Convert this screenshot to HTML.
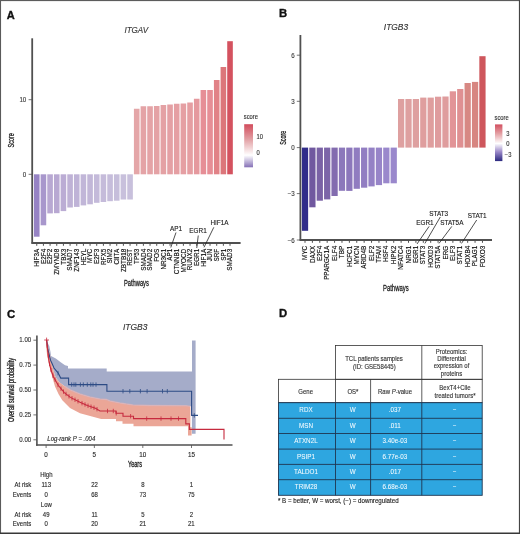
<!DOCTYPE html><html><head><meta charset="utf-8"><style>html,body{margin:0;padding:0;background:#fff;width:520px;height:534px;overflow:hidden;position:relative;}svg{display:block;position:absolute;left:0;top:0;}svg.main{filter:blur(0.30px);}</style></head><body><svg class="main" width="520" height="534" viewBox="0 0 520 534" font-family="Liberation Sans, sans-serif">
<rect x="0.00" y="0.00" width="520.00" height="534.00" fill="#ffffff" />
<text x="6.70" y="19.40" font-size="11.3" fill="#111" text-anchor="start" font-weight="bold" textLength="8.0" lengthAdjust="spacingAndGlyphs" stroke="#111" stroke-width="0.35">A</text>
<text x="124.40" y="32.90" font-size="8.3" fill="#333333" text-anchor="start" stroke="#333333" stroke-width="0.12" font-style="italic" textLength="23.7" lengthAdjust="spacingAndGlyphs" >ITGAV</text>
<rect x="33.95" y="174.30" width="5.60" height="62.40" fill="#9683c4" />
<line x1="36.75" y1="243.00" x2="36.75" y2="245.80" stroke="#505050" stroke-width="1.0" />
<g transform="translate(38.90 248.80) rotate(-90) scale(1 1.05)">
<text x="0.00" y="0.00" font-size="6.35" fill="#111111" text-anchor="end" stroke="#111111" stroke-width="0.15" >HIF3A</text>
</g>
<rect x="40.62" y="174.30" width="5.60" height="51.00" fill="#a897cc" />
<line x1="43.41" y1="243.00" x2="43.41" y2="245.80" stroke="#505050" stroke-width="1.0" />
<g transform="translate(45.56 248.80) rotate(-90) scale(1 1.05)">
<text x="0.00" y="0.00" font-size="6.35" fill="#111111" text-anchor="end" stroke="#111111" stroke-width="0.15" >E2F4</text>
</g>
<rect x="47.28" y="174.30" width="5.60" height="39.10" fill="#b8a8d2" />
<line x1="50.08" y1="243.00" x2="50.08" y2="245.80" stroke="#505050" stroke-width="1.0" />
<g transform="translate(52.23 248.80) rotate(-90) scale(1 1.05)">
<text x="0.00" y="0.00" font-size="6.35" fill="#111111" text-anchor="end" stroke="#111111" stroke-width="0.15" >E2F2</text>
</g>
<rect x="53.95" y="174.30" width="5.60" height="38.90" fill="#b8a8d2" />
<line x1="56.75" y1="243.00" x2="56.75" y2="245.80" stroke="#505050" stroke-width="1.0" />
<g transform="translate(58.90 248.80) rotate(-90) scale(1 1.05)">
<text x="0.00" y="0.00" font-size="6.35" fill="#111111" text-anchor="end" stroke="#111111" stroke-width="0.15" >ZMYND8</text>
</g>
<rect x="60.61" y="174.30" width="5.60" height="36.80" fill="#bbacd4" />
<line x1="63.41" y1="243.00" x2="63.41" y2="245.80" stroke="#505050" stroke-width="1.0" />
<g transform="translate(65.56 248.80) rotate(-90) scale(1 1.05)">
<text x="0.00" y="0.00" font-size="6.35" fill="#111111" text-anchor="end" stroke="#111111" stroke-width="0.15" >TBX3</text>
</g>
<rect x="67.28" y="174.30" width="5.60" height="33.20" fill="#bfb2d6" />
<line x1="70.08" y1="243.00" x2="70.08" y2="245.80" stroke="#505050" stroke-width="1.0" />
<g transform="translate(72.23 248.80) rotate(-90) scale(1 1.05)">
<text x="0.00" y="0.00" font-size="6.35" fill="#111111" text-anchor="end" stroke="#111111" stroke-width="0.15" >SMAD7</text>
</g>
<rect x="73.94" y="174.30" width="5.60" height="32.60" fill="#bfb3d7" />
<line x1="76.74" y1="243.00" x2="76.74" y2="245.80" stroke="#505050" stroke-width="1.0" />
<g transform="translate(78.89 248.80) rotate(-90) scale(1 1.05)">
<text x="0.00" y="0.00" font-size="6.35" fill="#111111" text-anchor="end" stroke="#111111" stroke-width="0.15" >ZNF143</text>
</g>
<rect x="80.61" y="174.30" width="5.60" height="31.10" fill="#c1b6d8" />
<line x1="83.41" y1="243.00" x2="83.41" y2="245.80" stroke="#505050" stroke-width="1.0" />
<g transform="translate(85.56 248.80) rotate(-90) scale(1 1.05)">
<text x="0.00" y="0.00" font-size="6.35" fill="#111111" text-anchor="end" stroke="#111111" stroke-width="0.15" >HEYL</text>
</g>
<rect x="87.27" y="174.30" width="5.60" height="30.00" fill="#c2b7d8" />
<line x1="90.07" y1="243.00" x2="90.07" y2="245.80" stroke="#505050" stroke-width="1.0" />
<g transform="translate(92.22 248.80) rotate(-90) scale(1 1.05)">
<text x="0.00" y="0.00" font-size="6.35" fill="#111111" text-anchor="end" stroke="#111111" stroke-width="0.15" >MYC</text>
</g>
<rect x="93.94" y="174.30" width="5.60" height="28.50" fill="#c4bada" />
<line x1="96.73" y1="243.00" x2="96.73" y2="245.80" stroke="#505050" stroke-width="1.0" />
<g transform="translate(98.89 248.80) rotate(-90) scale(1 1.05)">
<text x="0.00" y="0.00" font-size="6.35" fill="#111111" text-anchor="end" stroke="#111111" stroke-width="0.15" >E2F3</text>
</g>
<rect x="100.60" y="174.30" width="5.60" height="27.70" fill="#c5bbda" />
<line x1="103.40" y1="243.00" x2="103.40" y2="245.80" stroke="#505050" stroke-width="1.0" />
<g transform="translate(105.55 248.80) rotate(-90) scale(1 1.05)">
<text x="0.00" y="0.00" font-size="6.35" fill="#111111" text-anchor="end" stroke="#111111" stroke-width="0.15" >RFX5</text>
</g>
<rect x="107.27" y="174.30" width="5.60" height="26.90" fill="#c6bddb" />
<line x1="110.06" y1="243.00" x2="110.06" y2="245.80" stroke="#505050" stroke-width="1.0" />
<g transform="translate(112.22 248.80) rotate(-90) scale(1 1.05)">
<text x="0.00" y="0.00" font-size="6.35" fill="#111111" text-anchor="end" stroke="#111111" stroke-width="0.15" >SIM2</text>
</g>
<rect x="113.93" y="174.30" width="5.60" height="26.40" fill="#c6bedb" />
<line x1="116.73" y1="243.00" x2="116.73" y2="245.80" stroke="#505050" stroke-width="1.0" />
<g transform="translate(118.88 248.80) rotate(-90) scale(1 1.05)">
<text x="0.00" y="0.00" font-size="6.35" fill="#111111" text-anchor="end" stroke="#111111" stroke-width="0.15" >CIITA</text>
</g>
<rect x="120.59" y="174.30" width="5.60" height="25.20" fill="#c8c0dc" />
<line x1="123.39" y1="243.00" x2="123.39" y2="245.80" stroke="#505050" stroke-width="1.0" />
<g transform="translate(125.55 248.80) rotate(-90) scale(1 1.05)">
<text x="0.00" y="0.00" font-size="6.35" fill="#111111" text-anchor="end" stroke="#111111" stroke-width="0.15" >ZBTB18</text>
</g>
<rect x="127.26" y="174.30" width="5.60" height="25.20" fill="#c8c0dc" />
<line x1="130.06" y1="243.00" x2="130.06" y2="245.80" stroke="#505050" stroke-width="1.0" />
<g transform="translate(132.21 248.80) rotate(-90) scale(1 1.05)">
<text x="0.00" y="0.00" font-size="6.35" fill="#111111" text-anchor="end" stroke="#111111" stroke-width="0.15" >REST</text>
</g>
<rect x="133.92" y="108.75" width="5.60" height="65.55" fill="#e4a6a8" />
<line x1="136.72" y1="243.00" x2="136.72" y2="245.80" stroke="#505050" stroke-width="1.0" />
<g transform="translate(138.88 248.80) rotate(-90) scale(1 1.05)">
<text x="0.00" y="0.00" font-size="6.35" fill="#111111" text-anchor="end" stroke="#111111" stroke-width="0.15" >TP53</text>
</g>
<rect x="140.59" y="106.25" width="5.60" height="68.05" fill="#e4a3a6" />
<line x1="143.39" y1="243.00" x2="143.39" y2="245.80" stroke="#505050" stroke-width="1.0" />
<g transform="translate(145.54 248.80) rotate(-90) scale(1 1.05)">
<text x="0.00" y="0.00" font-size="6.35" fill="#111111" text-anchor="end" stroke="#111111" stroke-width="0.15" >SMAD4</text>
</g>
<rect x="147.25" y="106.25" width="5.60" height="68.05" fill="#e4a3a6" />
<line x1="150.06" y1="243.00" x2="150.06" y2="245.80" stroke="#505050" stroke-width="1.0" />
<g transform="translate(152.21 248.80) rotate(-90) scale(1 1.05)">
<text x="0.00" y="0.00" font-size="6.35" fill="#111111" text-anchor="end" stroke="#111111" stroke-width="0.15" >SMAD2</text>
</g>
<rect x="153.92" y="106.00" width="5.60" height="68.30" fill="#e4a2a5" />
<line x1="156.72" y1="243.00" x2="156.72" y2="245.80" stroke="#505050" stroke-width="1.0" />
<g transform="translate(158.87 248.80) rotate(-90) scale(1 1.05)">
<text x="0.00" y="0.00" font-size="6.35" fill="#111111" text-anchor="end" stroke="#111111" stroke-width="0.15" >FOS</text>
</g>
<rect x="160.58" y="105.00" width="5.60" height="69.30" fill="#e4a1a4" />
<line x1="163.38" y1="243.00" x2="163.38" y2="245.80" stroke="#505050" stroke-width="1.0" />
<g transform="translate(165.53 248.80) rotate(-90) scale(1 1.05)">
<text x="0.00" y="0.00" font-size="6.35" fill="#111111" text-anchor="end" stroke="#111111" stroke-width="0.15" >NR3C1</text>
</g>
<rect x="167.25" y="104.50" width="5.60" height="69.80" fill="#e4a0a4" />
<line x1="170.05" y1="243.00" x2="170.05" y2="245.80" stroke="#505050" stroke-width="1.0" />
<g transform="translate(172.20 248.80) rotate(-90) scale(1 1.05)">
<text x="0.00" y="0.00" font-size="6.35" fill="#111111" text-anchor="end" stroke="#111111" stroke-width="0.15" >AP1</text>
</g>
<rect x="173.91" y="103.75" width="5.60" height="70.55" fill="#e59fa3" />
<line x1="176.72" y1="243.00" x2="176.72" y2="245.80" stroke="#505050" stroke-width="1.0" />
<g transform="translate(178.87 248.80) rotate(-90) scale(1 1.05)">
<text x="0.00" y="0.00" font-size="6.35" fill="#111111" text-anchor="end" stroke="#111111" stroke-width="0.15" >CTNNB1</text>
</g>
<rect x="180.58" y="103.50" width="5.60" height="70.80" fill="#e59fa3" />
<line x1="183.38" y1="243.00" x2="183.38" y2="245.80" stroke="#505050" stroke-width="1.0" />
<g transform="translate(185.53 248.80) rotate(-90) scale(1 1.05)">
<text x="0.00" y="0.00" font-size="6.35" fill="#111111" text-anchor="end" stroke="#111111" stroke-width="0.15" >MYOCD</text>
</g>
<rect x="187.24" y="102.50" width="5.60" height="71.80" fill="#e59ea2" />
<line x1="190.04" y1="243.00" x2="190.04" y2="245.80" stroke="#505050" stroke-width="1.0" />
<g transform="translate(192.19 248.80) rotate(-90) scale(1 1.05)">
<text x="0.00" y="0.00" font-size="6.35" fill="#111111" text-anchor="end" stroke="#111111" stroke-width="0.15" >RUNX2</text>
</g>
<rect x="193.91" y="98.75" width="5.60" height="75.55" fill="#e5999e" />
<line x1="196.71" y1="243.00" x2="196.71" y2="245.80" stroke="#505050" stroke-width="1.0" />
<g transform="translate(198.86 248.80) rotate(-90) scale(1 1.05)">
<text x="0.00" y="0.00" font-size="6.35" fill="#111111" text-anchor="end" stroke="#111111" stroke-width="0.15" >EGR1</text>
</g>
<rect x="200.57" y="90.00" width="5.60" height="84.30" fill="#e68e96" />
<line x1="203.38" y1="243.00" x2="203.38" y2="245.80" stroke="#505050" stroke-width="1.0" />
<g transform="translate(205.53 248.80) rotate(-90) scale(1 1.05)">
<text x="0.00" y="0.00" font-size="6.35" fill="#111111" text-anchor="end" stroke="#111111" stroke-width="0.15" >HIF1A</text>
</g>
<rect x="207.24" y="90.00" width="5.60" height="84.30" fill="#e68e96" />
<line x1="210.04" y1="243.00" x2="210.04" y2="245.80" stroke="#505050" stroke-width="1.0" />
<g transform="translate(212.19 248.80) rotate(-90) scale(1 1.05)">
<text x="0.00" y="0.00" font-size="6.35" fill="#111111" text-anchor="end" stroke="#111111" stroke-width="0.15" >JUN</text>
</g>
<rect x="213.91" y="80.00" width="5.60" height="94.30" fill="#e18287" />
<line x1="216.71" y1="243.00" x2="216.71" y2="245.80" stroke="#505050" stroke-width="1.0" />
<g transform="translate(218.86 248.80) rotate(-90) scale(1 1.05)">
<text x="0.00" y="0.00" font-size="6.35" fill="#111111" text-anchor="end" stroke="#111111" stroke-width="0.15" >SRF</text>
</g>
<rect x="220.57" y="67.00" width="5.60" height="107.30" fill="#dc767a" />
<line x1="223.37" y1="243.00" x2="223.37" y2="245.80" stroke="#505050" stroke-width="1.0" />
<g transform="translate(225.52 248.80) rotate(-90) scale(1 1.05)">
<text x="0.00" y="0.00" font-size="6.35" fill="#111111" text-anchor="end" stroke="#111111" stroke-width="0.15" >SP1</text>
</g>
<rect x="227.23" y="41.20" width="5.60" height="133.10" fill="#d4525f" />
<line x1="230.03" y1="243.00" x2="230.03" y2="245.80" stroke="#505050" stroke-width="1.0" />
<g transform="translate(232.19 248.80) rotate(-90) scale(1 1.05)">
<text x="0.00" y="0.00" font-size="6.35" fill="#111111" text-anchor="end" stroke="#111111" stroke-width="0.15" >SMAD3</text>
</g>
<line x1="32.20" y1="38.30" x2="32.20" y2="243.70" stroke="#505050" stroke-width="1.8" />
<line x1="31.50" y1="243.00" x2="240.60" y2="243.00" stroke="#505050" stroke-width="1.8" />
<line x1="28.60" y1="99.70" x2="32.20" y2="99.70" stroke="#505050" stroke-width="0.8" />
<g transform="translate(26.30 102.20) scale(1 1.1)">
<text x="0.00" y="0.00" font-size="6.2" fill="#3a3a3a" text-anchor="end" stroke="#3a3a3a" stroke-width="0.12" >10</text>
</g>
<line x1="28.60" y1="174.30" x2="32.20" y2="174.30" stroke="#505050" stroke-width="0.8" />
<g transform="translate(26.30 176.80) scale(1 1.1)">
<text x="0.00" y="0.00" font-size="6.2" fill="#3a3a3a" text-anchor="end" stroke="#3a3a3a" stroke-width="0.12" >0</text>
</g>
<text x="14.30" y="140.30" font-size="8.4" fill="#1a1a1a" text-anchor="middle" stroke="#1a1a1a" stroke-width="0.3" textLength="14.4" lengthAdjust="spacingAndGlyphs" transform="rotate(-90 14.30 140.30)" >Score</text>
<text x="136.40" y="285.90" font-size="9.4" fill="#1a1a1a" text-anchor="middle" stroke="#1a1a1a" stroke-width="0.3" textLength="25.0" lengthAdjust="spacingAndGlyphs" >Pathways</text>
<g transform="translate(176.00 230.50) scale(1 1.1)">
<text x="0.00" y="0.00" font-size="6.4" fill="#222" text-anchor="middle" stroke="#222" stroke-width="0.12" >AP1</text>
</g>
<line x1="176.00" y1="232.50" x2="170.75" y2="247.50" stroke="#222" stroke-width="0.8" />
<g transform="translate(198.00 233.20) scale(1 1.1)">
<text x="0.00" y="0.00" font-size="6.4" fill="#222" text-anchor="middle" stroke="#222" stroke-width="0.12" >EGR1</text>
</g>
<line x1="198.25" y1="235.50" x2="196.75" y2="248.00" stroke="#222" stroke-width="0.8" />
<g transform="translate(219.50 224.70) scale(1 1.1)">
<text x="0.00" y="0.00" font-size="6.4" fill="#222" text-anchor="middle" stroke="#222" stroke-width="0.12" >HIF1A</text>
</g>
<line x1="213.80" y1="227.30" x2="204.00" y2="247.30" stroke="#222" stroke-width="0.8" />
<defs><linearGradient id="gA" x1="0" y1="0" x2="0" y2="1"><stop offset="0" stop-color="#d24c5c"/><stop offset="0.35" stop-color="#e2a0a4"/><stop offset="0.72" stop-color="#ffffff"/><stop offset="1" stop-color="#8570b6"/></linearGradient><linearGradient id="gB" x1="0" y1="0" x2="0" y2="1"><stop offset="0" stop-color="#d25060"/><stop offset="0.25" stop-color="#e4a0a4"/><stop offset="0.52" stop-color="#ffffff"/><stop offset="0.75" stop-color="#9a88c8"/><stop offset="1" stop-color="#2c2a80"/></linearGradient></defs>
<g transform="translate(243.80 119.30) scale(1 1.1)">
<text x="0.00" y="0.00" font-size="5.8" fill="#333" text-anchor="start" stroke="#333" stroke-width="0.12" >score</text>
</g>
<rect x="244.20" y="124.20" width="8.80" height="43.10" fill="url(#gA)" />
<g transform="translate(256.50 139.00) scale(1 1.1)">
<text x="0.00" y="0.00" font-size="5.8" fill="#333" text-anchor="start" stroke="#333" stroke-width="0.12" >10</text>
</g>
<g transform="translate(256.50 154.70) scale(1 1.1)">
<text x="0.00" y="0.00" font-size="5.8" fill="#333" text-anchor="start" stroke="#333" stroke-width="0.12" >0</text>
</g>
<text x="279.00" y="16.70" font-size="11.3" fill="#111" text-anchor="start" font-weight="bold" stroke="#111" stroke-width="0.35">B</text>
<text x="383.80" y="30.00" font-size="8.3" fill="#333333" text-anchor="start" stroke="#333333" stroke-width="0.12" font-style="italic" textLength="24.3" lengthAdjust="spacingAndGlyphs" >ITGB3</text>
<rect x="301.88" y="147.60" width="6.25" height="83.20" fill="#312d8a" />
<line x1="305.00" y1="240.00" x2="305.00" y2="242.80" stroke="#505050" stroke-width="1.0" />
<g transform="translate(307.15 245.80) rotate(-90) scale(1 1.05)">
<text x="0.00" y="0.00" font-size="6.35" fill="#111111" text-anchor="end" stroke="#111111" stroke-width="0.15" >MYC</text>
</g>
<rect x="309.27" y="147.60" width="6.25" height="59.70" fill="#70589f" />
<line x1="312.39" y1="240.00" x2="312.39" y2="242.80" stroke="#505050" stroke-width="1.0" />
<g transform="translate(314.54 245.80) rotate(-90) scale(1 1.05)">
<text x="0.00" y="0.00" font-size="6.35" fill="#111111" text-anchor="end" stroke="#111111" stroke-width="0.15" >DAXX</text>
</g>
<rect x="316.66" y="147.60" width="6.25" height="53.10" fill="#7a62a5" />
<line x1="319.79" y1="240.00" x2="319.79" y2="242.80" stroke="#505050" stroke-width="1.0" />
<g transform="translate(321.94 245.80) rotate(-90) scale(1 1.05)">
<text x="0.00" y="0.00" font-size="6.35" fill="#111111" text-anchor="end" stroke="#111111" stroke-width="0.15" >E2F4</text>
</g>
<rect x="324.06" y="147.60" width="6.25" height="51.80" fill="#7c65a8" />
<line x1="327.18" y1="240.00" x2="327.18" y2="242.80" stroke="#505050" stroke-width="1.0" />
<g transform="translate(329.33 245.80) rotate(-90) scale(1 1.05)">
<text x="0.00" y="0.00" font-size="6.35" fill="#111111" text-anchor="end" stroke="#111111" stroke-width="0.15" >PPARGC1A</text>
</g>
<rect x="331.45" y="147.60" width="6.25" height="48.40" fill="#836caf" />
<line x1="334.58" y1="240.00" x2="334.58" y2="242.80" stroke="#505050" stroke-width="1.0" />
<g transform="translate(336.73 245.80) rotate(-90) scale(1 1.05)">
<text x="0.00" y="0.00" font-size="6.35" fill="#111111" text-anchor="end" stroke="#111111" stroke-width="0.15" >ELF4</text>
</g>
<rect x="338.85" y="147.60" width="6.25" height="43.20" fill="#8c78bb" />
<line x1="341.97" y1="240.00" x2="341.97" y2="242.80" stroke="#505050" stroke-width="1.0" />
<g transform="translate(344.12 245.80) rotate(-90) scale(1 1.05)">
<text x="0.00" y="0.00" font-size="6.35" fill="#111111" text-anchor="end" stroke="#111111" stroke-width="0.15" >TBP</text>
</g>
<rect x="346.24" y="147.60" width="6.25" height="43.30" fill="#8c77bb" />
<line x1="349.36" y1="240.00" x2="349.36" y2="242.80" stroke="#505050" stroke-width="1.0" />
<g transform="translate(351.51 245.80) rotate(-90) scale(1 1.05)">
<text x="0.00" y="0.00" font-size="6.35" fill="#111111" text-anchor="end" stroke="#111111" stroke-width="0.15" >HCFC1</text>
</g>
<rect x="353.63" y="147.60" width="6.25" height="41.20" fill="#907cc0" />
<line x1="356.76" y1="240.00" x2="356.76" y2="242.80" stroke="#505050" stroke-width="1.0" />
<g transform="translate(358.91 245.80) rotate(-90) scale(1 1.05)">
<text x="0.00" y="0.00" font-size="6.35" fill="#111111" text-anchor="end" stroke="#111111" stroke-width="0.15" >MYCN</text>
</g>
<rect x="361.03" y="147.60" width="6.25" height="40.10" fill="#927ec2" />
<line x1="364.15" y1="240.00" x2="364.15" y2="242.80" stroke="#505050" stroke-width="1.0" />
<g transform="translate(366.30 245.80) rotate(-90) scale(1 1.05)">
<text x="0.00" y="0.00" font-size="6.35" fill="#111111" text-anchor="end" stroke="#111111" stroke-width="0.15" >ARID4B</text>
</g>
<rect x="368.42" y="147.60" width="6.25" height="38.80" fill="#9481c5" />
<line x1="371.55" y1="240.00" x2="371.55" y2="242.80" stroke="#505050" stroke-width="1.0" />
<g transform="translate(373.70 245.80) rotate(-90) scale(1 1.05)">
<text x="0.00" y="0.00" font-size="6.35" fill="#111111" text-anchor="end" stroke="#111111" stroke-width="0.15" >ELF2</text>
</g>
<rect x="375.81" y="147.60" width="6.25" height="37.50" fill="#9784c8" />
<line x1="378.94" y1="240.00" x2="378.94" y2="242.80" stroke="#505050" stroke-width="1.0" />
<g transform="translate(381.09 245.80) rotate(-90) scale(1 1.05)">
<text x="0.00" y="0.00" font-size="6.35" fill="#111111" text-anchor="end" stroke="#111111" stroke-width="0.15" >TFAM</text>
</g>
<rect x="383.21" y="147.60" width="6.25" height="35.70" fill="#9a88cc" />
<line x1="386.33" y1="240.00" x2="386.33" y2="242.80" stroke="#505050" stroke-width="1.0" />
<g transform="translate(388.48 245.80) rotate(-90) scale(1 1.05)">
<text x="0.00" y="0.00" font-size="6.35" fill="#111111" text-anchor="end" stroke="#111111" stroke-width="0.15" >HSF4</text>
</g>
<rect x="390.60" y="147.60" width="6.25" height="35.70" fill="#9a88cc" />
<line x1="393.73" y1="240.00" x2="393.73" y2="242.80" stroke="#505050" stroke-width="1.0" />
<g transform="translate(395.88 245.80) rotate(-90) scale(1 1.05)">
<text x="0.00" y="0.00" font-size="6.35" fill="#111111" text-anchor="end" stroke="#111111" stroke-width="0.15" >HIPK2</text>
</g>
<rect x="398.00" y="99.00" width="6.25" height="48.60" fill="#dea0a0" />
<line x1="401.12" y1="240.00" x2="401.12" y2="242.80" stroke="#505050" stroke-width="1.0" />
<g transform="translate(403.27 245.80) rotate(-90) scale(1 1.05)">
<text x="0.00" y="0.00" font-size="6.35" fill="#111111" text-anchor="end" stroke="#111111" stroke-width="0.15" >NFATC4</text>
</g>
<rect x="405.39" y="99.00" width="6.25" height="48.60" fill="#dea0a0" />
<line x1="408.52" y1="240.00" x2="408.52" y2="242.80" stroke="#505050" stroke-width="1.0" />
<g transform="translate(410.67 245.80) rotate(-90) scale(1 1.05)">
<text x="0.00" y="0.00" font-size="6.35" fill="#111111" text-anchor="end" stroke="#111111" stroke-width="0.15" >NRG1</text>
</g>
<rect x="412.78" y="99.00" width="6.25" height="48.60" fill="#dea0a0" />
<line x1="415.91" y1="240.00" x2="415.91" y2="242.80" stroke="#505050" stroke-width="1.0" />
<g transform="translate(418.06 245.80) rotate(-90) scale(1 1.05)">
<text x="0.00" y="0.00" font-size="6.35" fill="#111111" text-anchor="end" stroke="#111111" stroke-width="0.15" >EGR1</text>
</g>
<rect x="420.18" y="97.60" width="6.25" height="50.00" fill="#df9e9e" />
<line x1="423.30" y1="240.00" x2="423.30" y2="242.80" stroke="#505050" stroke-width="1.0" />
<g transform="translate(425.45 245.80) rotate(-90) scale(1 1.05)">
<text x="0.00" y="0.00" font-size="6.35" fill="#111111" text-anchor="end" stroke="#111111" stroke-width="0.15" >STAT3</text>
</g>
<rect x="427.57" y="97.60" width="6.25" height="50.00" fill="#df9e9e" />
<line x1="430.70" y1="240.00" x2="430.70" y2="242.80" stroke="#505050" stroke-width="1.0" />
<g transform="translate(432.85 245.80) rotate(-90) scale(1 1.05)">
<text x="0.00" y="0.00" font-size="6.35" fill="#111111" text-anchor="end" stroke="#111111" stroke-width="0.15" >HOXD3</text>
</g>
<rect x="434.97" y="96.70" width="6.25" height="50.90" fill="#df9c9e" />
<line x1="438.09" y1="240.00" x2="438.09" y2="242.80" stroke="#505050" stroke-width="1.0" />
<g transform="translate(440.24 245.80) rotate(-90) scale(1 1.05)">
<text x="0.00" y="0.00" font-size="6.35" fill="#111111" text-anchor="end" stroke="#111111" stroke-width="0.15" >STAT5A</text>
</g>
<rect x="442.36" y="96.50" width="6.25" height="51.10" fill="#df9c9d" />
<line x1="445.49" y1="240.00" x2="445.49" y2="242.80" stroke="#505050" stroke-width="1.0" />
<g transform="translate(447.64 245.80) rotate(-90) scale(1 1.05)">
<text x="0.00" y="0.00" font-size="6.35" fill="#111111" text-anchor="end" stroke="#111111" stroke-width="0.15" >ERG</text>
</g>
<rect x="449.75" y="91.30" width="6.25" height="56.30" fill="#e29497" />
<line x1="452.88" y1="240.00" x2="452.88" y2="242.80" stroke="#505050" stroke-width="1.0" />
<g transform="translate(455.03 245.80) rotate(-90) scale(1 1.05)">
<text x="0.00" y="0.00" font-size="6.35" fill="#111111" text-anchor="end" stroke="#111111" stroke-width="0.15" >ELF3</text>
</g>
<rect x="457.15" y="89.00" width="6.25" height="58.60" fill="#df9092" />
<line x1="460.27" y1="240.00" x2="460.27" y2="242.80" stroke="#505050" stroke-width="1.0" />
<g transform="translate(462.42 245.80) rotate(-90) scale(1 1.05)">
<text x="0.00" y="0.00" font-size="6.35" fill="#111111" text-anchor="end" stroke="#111111" stroke-width="0.15" >STAT1</text>
</g>
<rect x="464.54" y="83.00" width="6.25" height="64.60" fill="#d78883" />
<line x1="467.67" y1="240.00" x2="467.67" y2="242.80" stroke="#505050" stroke-width="1.0" />
<g transform="translate(469.82 245.80) rotate(-90) scale(1 1.05)">
<text x="0.00" y="0.00" font-size="6.35" fill="#111111" text-anchor="end" stroke="#111111" stroke-width="0.15" >HOXB4</text>
</g>
<rect x="471.94" y="81.90" width="6.25" height="65.70" fill="#d78681" />
<line x1="475.06" y1="240.00" x2="475.06" y2="242.80" stroke="#505050" stroke-width="1.0" />
<g transform="translate(477.21 245.80) rotate(-90) scale(1 1.05)">
<text x="0.00" y="0.00" font-size="6.35" fill="#111111" text-anchor="end" stroke="#111111" stroke-width="0.15" >PLAG1</text>
</g>
<rect x="479.33" y="56.20" width="6.25" height="91.40" fill="#ce565c" />
<line x1="482.46" y1="240.00" x2="482.46" y2="242.80" stroke="#505050" stroke-width="1.0" />
<g transform="translate(484.61 245.80) rotate(-90) scale(1 1.05)">
<text x="0.00" y="0.00" font-size="6.35" fill="#111111" text-anchor="end" stroke="#111111" stroke-width="0.15" >FOXO3</text>
</g>
<line x1="300.40" y1="35.00" x2="300.40" y2="240.70" stroke="#505050" stroke-width="1.8" />
<line x1="299.70" y1="240.00" x2="492.00" y2="240.00" stroke="#505050" stroke-width="1.8" />
<line x1="296.80" y1="55.20" x2="300.40" y2="55.20" stroke="#505050" stroke-width="0.8" />
<g transform="translate(294.70 57.70) scale(1 1.1)">
<text x="0.00" y="0.00" font-size="6.2" fill="#3a3a3a" text-anchor="end" stroke="#3a3a3a" stroke-width="0.12" >6</text>
</g>
<line x1="296.80" y1="101.30" x2="300.40" y2="101.30" stroke="#505050" stroke-width="0.8" />
<g transform="translate(294.70 103.80) scale(1 1.1)">
<text x="0.00" y="0.00" font-size="6.2" fill="#3a3a3a" text-anchor="end" stroke="#3a3a3a" stroke-width="0.12" >3</text>
</g>
<line x1="296.80" y1="147.60" x2="300.40" y2="147.60" stroke="#505050" stroke-width="0.8" />
<g transform="translate(294.70 150.10) scale(1 1.1)">
<text x="0.00" y="0.00" font-size="6.2" fill="#3a3a3a" text-anchor="end" stroke="#3a3a3a" stroke-width="0.12" >0</text>
</g>
<line x1="296.80" y1="193.60" x2="300.40" y2="193.60" stroke="#505050" stroke-width="0.8" />
<g transform="translate(294.70 196.10) scale(1 1.1)">
<text x="0.00" y="0.00" font-size="6.2" fill="#3a3a3a" text-anchor="end" stroke="#3a3a3a" stroke-width="0.12" >−3</text>
</g>
<line x1="296.80" y1="240.00" x2="300.40" y2="240.00" stroke="#505050" stroke-width="0.8" />
<g transform="translate(294.70 242.50) scale(1 1.1)">
<text x="0.00" y="0.00" font-size="6.2" fill="#3a3a3a" text-anchor="end" stroke="#3a3a3a" stroke-width="0.12" >−6</text>
</g>
<text x="285.70" y="137.80" font-size="8.4" fill="#1a1a1a" text-anchor="middle" stroke="#1a1a1a" stroke-width="0.3" textLength="14.0" lengthAdjust="spacingAndGlyphs" transform="rotate(-90 285.70 137.80)" >Score</text>
<text x="395.80" y="290.50" font-size="9.4" fill="#1a1a1a" text-anchor="middle" stroke="#1a1a1a" stroke-width="0.3" textLength="25.6" lengthAdjust="spacingAndGlyphs" >Pathways</text>
<g transform="translate(438.70 215.60) scale(1 1.1)">
<text x="0.00" y="0.00" font-size="6.4" fill="#222" text-anchor="middle" stroke="#222" stroke-width="0.12" >STAT3</text>
</g>
<line x1="440.30" y1="217.00" x2="424.90" y2="243.40" stroke="#222" stroke-width="0.8" />
<g transform="translate(424.90 224.70) scale(1 1.1)">
<text x="0.00" y="0.00" font-size="6.4" fill="#222" text-anchor="middle" stroke="#222" stroke-width="0.12" >EGR1</text>
</g>
<line x1="429.10" y1="226.40" x2="417.00" y2="244.00" stroke="#222" stroke-width="0.8" />
<g transform="translate(451.80 224.70) scale(1 1.1)">
<text x="0.00" y="0.00" font-size="6.4" fill="#222" text-anchor="middle" stroke="#222" stroke-width="0.12" >STAT5A</text>
</g>
<line x1="451.80" y1="226.40" x2="439.00" y2="243.40" stroke="#222" stroke-width="0.8" />
<g transform="translate(477.20 217.90) scale(1 1.1)">
<text x="0.00" y="0.00" font-size="6.4" fill="#222" text-anchor="middle" stroke="#222" stroke-width="0.12" >STAT1</text>
</g>
<line x1="476.70" y1="220.00" x2="461.50" y2="243.40" stroke="#222" stroke-width="0.8" />
<g transform="translate(494.50 120.00) scale(1 1.1)">
<text x="0.00" y="0.00" font-size="5.8" fill="#333" text-anchor="start" stroke="#333" stroke-width="0.12" >score</text>
</g>
<rect x="495.00" y="124.40" width="7.40" height="36.70" fill="url(#gB)" />
<g transform="translate(506.30 136.00) scale(1 1.1)">
<text x="0.00" y="0.00" font-size="5.8" fill="#333" text-anchor="start" stroke="#333" stroke-width="0.12" >3</text>
</g>
<g transform="translate(506.30 146.10) scale(1 1.1)">
<text x="0.00" y="0.00" font-size="5.8" fill="#333" text-anchor="start" stroke="#333" stroke-width="0.12" >0</text>
</g>
<g transform="translate(504.80 156.70) scale(1 1.1)">
<text x="0.00" y="0.00" font-size="5.8" fill="#333" text-anchor="start" stroke="#333" stroke-width="0.12" >−3</text>
</g>
<text x="6.90" y="317.50" font-size="11.4" fill="#111" text-anchor="start" font-weight="bold" stroke="#111" stroke-width="0.35">C</text>
<text x="122.90" y="330.20" font-size="8.3" fill="#333333" text-anchor="start" stroke="#333333" stroke-width="0.12" font-style="italic" textLength="24.6" lengthAdjust="spacingAndGlyphs" >ITGB3</text>
<path d="M46.6,341.0 L49.3,346.0 L50.5,352.0 L51.0,356.0 L55.8,358.5 L60.7,362.2 L65.0,365.2 L68.0,366.0 L68.0,368.4 L106.7,368.4 L106.7,371.5 L192.0,371.5 L192.0,340.5 L195.6,340.5 L195.6,433.7 L191.9,433.7 L191.9,406.3 L190.3,406.3 L186.0,405.8 L150.0,405.5 L133.0,405.0 L120.0,403.0 L110.0,401.0 L106.5,399.5 L100.0,399.0 L90.0,397.0 L80.0,394.0 L70.4,390.0 L65.0,386.5 L59.0,382.0 L55.5,377.0 L53.3,370.0 L51.2,360.0 L49.0,350.0 L46.6,342.0 Z" fill="#a5acc9"/>
<path d="M46.6,342.0 L49.0,350.0 L51.2,360.0 L53.3,370.0 L55.5,377.0 L59.0,382.0 L65.0,386.5 L70.4,390.0 L80.0,394.0 L90.0,397.0 L100.0,399.0 L106.5,399.5 L110.0,401.0 L120.0,403.0 L133.0,405.0 L150.0,405.5 L186.0,405.8 L190.3,406.3 L190.4,408.0 L190.4,427.0 L191.6,427.0 L191.6,435.5 L188.0,435.5 L188.0,426.3 L133.5,426.3 L133.5,423.7 L122.5,423.7 L122.5,421.3 L116.0,421.3 L116.0,419.0 L101.2,419.0 L92.0,416.5 L80.0,413.2 L70.0,407.9 L62.3,400.2 L58.5,394.0 L55.0,386.5 L52.0,376.0 L49.5,366.0 L47.2,356.0 L46.1,346.0 L46.1,342.0 Z" fill="#eba697"/>
<path d="M65.0,386.5 L70.4,390.0 L80.0,394.0 L90.0,397.0 L100.0,399.0 L106.5,399.5 L110.0,401.0 L120.0,403.0 L133.0,405.0 L150.0,405.5 L186.0,405.8 L190.3,406.3" fill="none" stroke="#d8b0b8" stroke-width="1.6" stroke-opacity="0.7"/>
<path d="M46.6,340.0 L48.0,350.0 L50.5,360.0 L54.0,368.0 L58.2,373.1 L60.7,378.1 L68.6,378.1 L68.6,384.6 L106.9,384.6 L106.9,391.2 L191.6,391.2 L191.6,415.4 L198.0,415.4" fill="none" stroke="#2d4b85" stroke-width="1.1"/>
<line x1="71.70" y1="382.40" x2="71.70" y2="386.80" stroke="#2d4b85" stroke-width="0.8" />
<line x1="74.00" y1="382.40" x2="74.00" y2="386.80" stroke="#2d4b85" stroke-width="0.8" />
<line x1="75.80" y1="382.40" x2="75.80" y2="386.80" stroke="#2d4b85" stroke-width="0.8" />
<line x1="80.40" y1="382.40" x2="80.40" y2="386.80" stroke="#2d4b85" stroke-width="0.8" />
<line x1="83.30" y1="382.40" x2="83.30" y2="386.80" stroke="#2d4b85" stroke-width="0.8" />
<line x1="87.30" y1="382.40" x2="87.30" y2="386.80" stroke="#2d4b85" stroke-width="0.8" />
<line x1="90.80" y1="382.40" x2="90.80" y2="386.80" stroke="#2d4b85" stroke-width="0.8" />
<line x1="93.00" y1="382.40" x2="93.00" y2="386.80" stroke="#2d4b85" stroke-width="0.8" />
<line x1="96.00" y1="382.40" x2="96.00" y2="386.80" stroke="#2d4b85" stroke-width="0.8" />
<line x1="123.00" y1="389.00" x2="123.00" y2="393.40" stroke="#2d4b85" stroke-width="0.8" />
<line x1="129.80" y1="389.00" x2="129.80" y2="393.40" stroke="#2d4b85" stroke-width="0.8" />
<line x1="140.40" y1="389.00" x2="140.40" y2="393.40" stroke="#2d4b85" stroke-width="0.8" />
<line x1="147.10" y1="389.00" x2="147.10" y2="393.40" stroke="#2d4b85" stroke-width="0.8" />
<line x1="162.50" y1="389.00" x2="162.50" y2="393.40" stroke="#2d4b85" stroke-width="0.8" />
<line x1="167.30" y1="389.00" x2="167.30" y2="393.40" stroke="#2d4b85" stroke-width="0.8" />
<line x1="58.00" y1="370.90" x2="58.00" y2="375.30" stroke="#2d4b85" stroke-width="0.8" />
<line x1="194.30" y1="413.20" x2="194.30" y2="417.60" stroke="#2d4b85" stroke-width="0.8" />
<path d="M46.7,340.0 L47.6,350.0 L49.1,362.2 L51.0,370.0 L53.4,376.8 L58.2,385.3 L64.3,392.6 L70.4,397.4 L80.0,402.3 L87.3,405.5 L95.4,408.2 L100.0,411.0 L116.0,411.0 L116.0,413.3 L123.0,413.3 L123.0,416.2 L133.5,416.2 L133.5,418.6 L185.8,418.6 L185.8,423.9 L189.4,423.9 L189.4,429.4 L224.0,429.4 L224.0,439.5" fill="none" stroke="#c62a3e" stroke-width="1.1"/>
<line x1="47.20" y1="343.36" x2="47.20" y2="347.76" stroke="#c62a3e" stroke-width="0.8" />
<line x1="48.30" y1="353.49" x2="48.30" y2="357.89" stroke="#c62a3e" stroke-width="0.8" />
<line x1="49.50" y1="361.64" x2="49.50" y2="366.04" stroke="#c62a3e" stroke-width="0.8" />
<line x1="51.00" y1="367.80" x2="51.00" y2="372.20" stroke="#c62a3e" stroke-width="0.8" />
<line x1="53.00" y1="373.47" x2="53.00" y2="377.87" stroke="#c62a3e" stroke-width="0.8" />
<line x1="55.00" y1="377.43" x2="55.00" y2="381.83" stroke="#c62a3e" stroke-width="0.8" />
<line x1="58.00" y1="382.75" x2="58.00" y2="387.15" stroke="#c62a3e" stroke-width="0.8" />
<line x1="61.00" y1="386.45" x2="61.00" y2="390.85" stroke="#c62a3e" stroke-width="0.8" />
<line x1="63.50" y1="389.44" x2="63.50" y2="393.84" stroke="#c62a3e" stroke-width="0.8" />
<line x1="66.00" y1="391.74" x2="66.00" y2="396.14" stroke="#c62a3e" stroke-width="0.8" />
<line x1="69.00" y1="394.10" x2="69.00" y2="398.50" stroke="#c62a3e" stroke-width="0.8" />
<line x1="72.00" y1="396.02" x2="72.00" y2="400.42" stroke="#c62a3e" stroke-width="0.8" />
<line x1="75.00" y1="397.55" x2="75.00" y2="401.95" stroke="#c62a3e" stroke-width="0.8" />
<line x1="78.00" y1="399.08" x2="78.00" y2="403.48" stroke="#c62a3e" stroke-width="0.8" />
<line x1="82.00" y1="400.98" x2="82.00" y2="405.38" stroke="#c62a3e" stroke-width="0.8" />
<line x1="85.00" y1="402.29" x2="85.00" y2="406.69" stroke="#c62a3e" stroke-width="0.8" />
<line x1="88.00" y1="403.53" x2="88.00" y2="407.93" stroke="#c62a3e" stroke-width="0.8" />
<line x1="91.00" y1="404.53" x2="91.00" y2="408.93" stroke="#c62a3e" stroke-width="0.8" />
<line x1="94.00" y1="405.53" x2="94.00" y2="409.93" stroke="#c62a3e" stroke-width="0.8" />
<line x1="97.00" y1="406.97" x2="97.00" y2="411.37" stroke="#c62a3e" stroke-width="0.8" />
<line x1="107.50" y1="408.80" x2="107.50" y2="413.20" stroke="#c62a3e" stroke-width="0.8" />
<line x1="113.30" y1="408.80" x2="113.30" y2="413.20" stroke="#c62a3e" stroke-width="0.8" />
<line x1="116.20" y1="411.10" x2="116.20" y2="415.50" stroke="#c62a3e" stroke-width="0.8" />
<line x1="130.60" y1="414.00" x2="130.60" y2="418.40" stroke="#c62a3e" stroke-width="0.8" />
<line x1="146.70" y1="416.40" x2="146.70" y2="420.80" stroke="#c62a3e" stroke-width="0.8" />
<line x1="161.00" y1="416.40" x2="161.00" y2="420.80" stroke="#c62a3e" stroke-width="0.8" />
<line x1="171.00" y1="416.40" x2="171.00" y2="420.80" stroke="#c62a3e" stroke-width="0.8" />
<line x1="178.50" y1="416.40" x2="178.50" y2="420.80" stroke="#c62a3e" stroke-width="0.8" />
<line x1="44.20" y1="340.00" x2="49.00" y2="340.00" stroke="#c62a3e" stroke-width="0.8" />
<line x1="46.60" y1="337.60" x2="46.60" y2="342.40" stroke="#c62a3e" stroke-width="0.8" />
<line x1="36.90" y1="335.50" x2="36.90" y2="445.80" stroke="#505050" stroke-width="1.6" />
<line x1="36.10" y1="445.00" x2="232.50" y2="445.00" stroke="#505050" stroke-width="1.6" />
<line x1="33.40" y1="340.20" x2="36.90" y2="340.20" stroke="#505050" stroke-width="0.8" />
<g transform="translate(31.20 342.40) scale(1 1.1)">
<text x="0.00" y="0.00" font-size="6.1" fill="#333" text-anchor="end" stroke="#333" stroke-width="0.12" >1.00</text>
</g>
<line x1="33.40" y1="365.10" x2="36.90" y2="365.10" stroke="#505050" stroke-width="0.8" />
<g transform="translate(31.20 367.30) scale(1 1.1)">
<text x="0.00" y="0.00" font-size="6.1" fill="#333" text-anchor="end" stroke="#333" stroke-width="0.12" >0.75</text>
</g>
<line x1="33.40" y1="390.00" x2="36.90" y2="390.00" stroke="#505050" stroke-width="0.8" />
<g transform="translate(31.20 392.20) scale(1 1.1)">
<text x="0.00" y="0.00" font-size="6.1" fill="#333" text-anchor="end" stroke="#333" stroke-width="0.12" >0.50</text>
</g>
<line x1="33.40" y1="414.90" x2="36.90" y2="414.90" stroke="#505050" stroke-width="0.8" />
<g transform="translate(31.20 417.10) scale(1 1.1)">
<text x="0.00" y="0.00" font-size="6.1" fill="#333" text-anchor="end" stroke="#333" stroke-width="0.12" >0.25</text>
</g>
<line x1="33.40" y1="439.80" x2="36.90" y2="439.80" stroke="#505050" stroke-width="0.8" />
<g transform="translate(31.20 442.00) scale(1 1.1)">
<text x="0.00" y="0.00" font-size="6.1" fill="#333" text-anchor="end" stroke="#333" stroke-width="0.12" >0.00</text>
</g>
<line x1="46.10" y1="445.00" x2="46.10" y2="448.00" stroke="#505050" stroke-width="0.8" />
<g transform="translate(46.10 456.80) scale(1 1.1)">
<text x="0.00" y="0.00" font-size="6.3" fill="#2a2a2a" text-anchor="middle" stroke="#2a2a2a" stroke-width="0.12" >0</text>
</g>
<line x1="94.35" y1="445.00" x2="94.35" y2="448.00" stroke="#505050" stroke-width="0.8" />
<g transform="translate(94.35 456.80) scale(1 1.1)">
<text x="0.00" y="0.00" font-size="6.3" fill="#2a2a2a" text-anchor="middle" stroke="#2a2a2a" stroke-width="0.12" >5</text>
</g>
<line x1="142.80" y1="445.00" x2="142.80" y2="448.00" stroke="#505050" stroke-width="0.8" />
<g transform="translate(142.80 456.80) scale(1 1.1)">
<text x="0.00" y="0.00" font-size="6.3" fill="#2a2a2a" text-anchor="middle" stroke="#2a2a2a" stroke-width="0.12" >10</text>
</g>
<line x1="191.50" y1="445.00" x2="191.50" y2="448.00" stroke="#505050" stroke-width="0.8" />
<g transform="translate(191.50 456.80) scale(1 1.1)">
<text x="0.00" y="0.00" font-size="6.3" fill="#2a2a2a" text-anchor="middle" stroke="#2a2a2a" stroke-width="0.12" >15</text>
</g>
<g transform="translate(13.80 390.00) rotate(-90) scale(1 1.1)">
<text x="0.00" y="0.00" font-size="7.6" fill="#1a1a1a" text-anchor="middle" stroke="#1a1a1a" stroke-width="0.3" textLength="64" lengthAdjust="spacingAndGlyphs" >Overall survival probability</text>
</g>
<text x="135.00" y="466.50" font-size="8.2" fill="#1a1a1a" text-anchor="middle" stroke="#1a1a1a" stroke-width="0.3" textLength="14" lengthAdjust="spacingAndGlyphs" >Years</text>
<g transform="translate(47.30 441.10) scale(1 1.12)">
<text x="0.00" y="0.00" font-size="5.9" fill="#2a2a2a" text-anchor="start" stroke="#2a2a2a" stroke-width="0.12" font-style="italic" textLength="48" lengthAdjust="spacingAndGlyphs" >Log-rank <tspan font-style="italic">P</tspan> = .004</text>
</g>
<g transform="translate(46.30 476.70) scale(1 1.1)">
<text x="0.00" y="0.00" font-size="6.0" fill="#2a2a2a" text-anchor="middle" stroke="#2a2a2a" stroke-width="0.12" >High</text>
</g>
<g transform="translate(31.20 486.70) scale(1 1.1)">
<text x="0.00" y="0.00" font-size="6.0" fill="#2a2a2a" text-anchor="end" stroke="#2a2a2a" stroke-width="0.12" >At risk</text>
</g>
<g transform="translate(46.20 486.70) scale(1 1.1)">
<text x="0.00" y="0.00" font-size="6.0" fill="#2a2a2a" text-anchor="middle" stroke="#2a2a2a" stroke-width="0.12" >113</text>
</g>
<g transform="translate(94.50 486.70) scale(1 1.1)">
<text x="0.00" y="0.00" font-size="6.0" fill="#2a2a2a" text-anchor="middle" stroke="#2a2a2a" stroke-width="0.12" >22</text>
</g>
<g transform="translate(142.80 486.70) scale(1 1.1)">
<text x="0.00" y="0.00" font-size="6.0" fill="#2a2a2a" text-anchor="middle" stroke="#2a2a2a" stroke-width="0.12" >8</text>
</g>
<g transform="translate(191.30 486.70) scale(1 1.1)">
<text x="0.00" y="0.00" font-size="6.0" fill="#2a2a2a" text-anchor="middle" stroke="#2a2a2a" stroke-width="0.12" >1</text>
</g>
<g transform="translate(31.20 496.50) scale(1 1.1)">
<text x="0.00" y="0.00" font-size="6.0" fill="#2a2a2a" text-anchor="end" stroke="#2a2a2a" stroke-width="0.12" >Events</text>
</g>
<g transform="translate(46.20 496.50) scale(1 1.1)">
<text x="0.00" y="0.00" font-size="6.0" fill="#2a2a2a" text-anchor="middle" stroke="#2a2a2a" stroke-width="0.12" >0</text>
</g>
<g transform="translate(94.50 496.50) scale(1 1.1)">
<text x="0.00" y="0.00" font-size="6.0" fill="#2a2a2a" text-anchor="middle" stroke="#2a2a2a" stroke-width="0.12" >68</text>
</g>
<g transform="translate(142.80 496.50) scale(1 1.1)">
<text x="0.00" y="0.00" font-size="6.0" fill="#2a2a2a" text-anchor="middle" stroke="#2a2a2a" stroke-width="0.12" >73</text>
</g>
<g transform="translate(191.30 496.50) scale(1 1.1)">
<text x="0.00" y="0.00" font-size="6.0" fill="#2a2a2a" text-anchor="middle" stroke="#2a2a2a" stroke-width="0.12" >75</text>
</g>
<g transform="translate(46.30 506.50) scale(1 1.1)">
<text x="0.00" y="0.00" font-size="6.0" fill="#2a2a2a" text-anchor="middle" stroke="#2a2a2a" stroke-width="0.12" >Low</text>
</g>
<g transform="translate(31.20 516.50) scale(1 1.1)">
<text x="0.00" y="0.00" font-size="6.0" fill="#2a2a2a" text-anchor="end" stroke="#2a2a2a" stroke-width="0.12" >At risk</text>
</g>
<g transform="translate(46.20 516.50) scale(1 1.1)">
<text x="0.00" y="0.00" font-size="6.0" fill="#2a2a2a" text-anchor="middle" stroke="#2a2a2a" stroke-width="0.12" >49</text>
</g>
<g transform="translate(94.50 516.50) scale(1 1.1)">
<text x="0.00" y="0.00" font-size="6.0" fill="#2a2a2a" text-anchor="middle" stroke="#2a2a2a" stroke-width="0.12" >11</text>
</g>
<g transform="translate(142.80 516.50) scale(1 1.1)">
<text x="0.00" y="0.00" font-size="6.0" fill="#2a2a2a" text-anchor="middle" stroke="#2a2a2a" stroke-width="0.12" >5</text>
</g>
<g transform="translate(191.30 516.50) scale(1 1.1)">
<text x="0.00" y="0.00" font-size="6.0" fill="#2a2a2a" text-anchor="middle" stroke="#2a2a2a" stroke-width="0.12" >2</text>
</g>
<g transform="translate(31.20 526.00) scale(1 1.1)">
<text x="0.00" y="0.00" font-size="6.0" fill="#2a2a2a" text-anchor="end" stroke="#2a2a2a" stroke-width="0.12" >Events</text>
</g>
<g transform="translate(46.20 526.00) scale(1 1.1)">
<text x="0.00" y="0.00" font-size="6.0" fill="#2a2a2a" text-anchor="middle" stroke="#2a2a2a" stroke-width="0.12" >0</text>
</g>
<g transform="translate(94.50 526.00) scale(1 1.1)">
<text x="0.00" y="0.00" font-size="6.0" fill="#2a2a2a" text-anchor="middle" stroke="#2a2a2a" stroke-width="0.12" >20</text>
</g>
<g transform="translate(142.80 526.00) scale(1 1.1)">
<text x="0.00" y="0.00" font-size="6.0" fill="#2a2a2a" text-anchor="middle" stroke="#2a2a2a" stroke-width="0.12" >21</text>
</g>
<g transform="translate(191.30 526.00) scale(1 1.1)">
<text x="0.00" y="0.00" font-size="6.0" fill="#2a2a2a" text-anchor="middle" stroke="#2a2a2a" stroke-width="0.12" >21</text>
</g>
<text x="278.90" y="317.40" font-size="11.3" fill="#111" text-anchor="start" font-weight="bold" stroke="#111" stroke-width="0.35">D</text>
<rect x="335.5" y="345.5" width="146.7" height="33.8" fill="none" stroke="#333" stroke-width="0.8"/>
<line x1="421.80" y1="345.50" x2="421.80" y2="379.30" stroke="#333" stroke-width="0.8" />
<rect x="278.5" y="379.3" width="203.7" height="23.4" fill="none" stroke="#333" stroke-width="0.8"/>
<line x1="335.50" y1="379.30" x2="335.50" y2="402.70" stroke="#333" stroke-width="0.8" />
<line x1="370.60" y1="379.30" x2="370.60" y2="402.70" stroke="#333" stroke-width="0.8" />
<line x1="421.80" y1="379.30" x2="421.80" y2="402.70" stroke="#333" stroke-width="0.8" />
<rect x="278.50" y="402.70" width="203.70" height="92.60" fill="#2ea6e0" />
<line x1="278.50" y1="418.30" x2="482.20" y2="418.30" stroke="#1f3550" stroke-width="0.9" />
<line x1="278.50" y1="433.50" x2="482.20" y2="433.50" stroke="#1f3550" stroke-width="0.9" />
<line x1="278.50" y1="449.10" x2="482.20" y2="449.10" stroke="#1f3550" stroke-width="0.9" />
<line x1="278.50" y1="464.40" x2="482.20" y2="464.40" stroke="#1f3550" stroke-width="0.9" />
<line x1="278.50" y1="479.70" x2="482.20" y2="479.70" stroke="#1f3550" stroke-width="0.9" />
<rect x="278.5" y="402.7" width="203.7" height="92.6" fill="none" stroke="#1f3550" stroke-width="0.9"/>
<line x1="335.50" y1="402.70" x2="335.50" y2="495.30" stroke="#1f3550" stroke-width="0.9" />
<line x1="370.60" y1="402.70" x2="370.60" y2="495.30" stroke="#1f3550" stroke-width="0.9" />
<line x1="421.80" y1="402.70" x2="421.80" y2="495.30" stroke="#1f3550" stroke-width="0.9" />
<g transform="translate(374.00 360.70) scale(1 1.1)">
<text x="0.00" y="0.00" font-size="6.0" fill="#333" text-anchor="middle" stroke="#333" stroke-width="0.12" >TCL patients samples</text>
</g>
<g transform="translate(374.40 368.50) scale(1 1.1)">
<text x="0.00" y="0.00" font-size="6.0" fill="#333" text-anchor="middle" stroke="#333" stroke-width="0.12" >(ID: GSE58445)</text>
</g>
<g transform="translate(451.50 353.60) scale(1 1.1)">
<text x="0.00" y="0.00" font-size="6.0" fill="#333" text-anchor="middle" stroke="#333" stroke-width="0.12" >Proteomics:</text>
</g>
<g transform="translate(451.50 361.00) scale(1 1.1)">
<text x="0.00" y="0.00" font-size="6.0" fill="#333" text-anchor="middle" stroke="#333" stroke-width="0.12" >Differential</text>
</g>
<g transform="translate(451.50 368.40) scale(1 1.1)">
<text x="0.00" y="0.00" font-size="6.0" fill="#333" text-anchor="middle" stroke="#333" stroke-width="0.12" >expression of</text>
</g>
<g transform="translate(451.50 375.80) scale(1 1.1)">
<text x="0.00" y="0.00" font-size="6.0" fill="#333" text-anchor="middle" stroke="#333" stroke-width="0.12" >proteins</text>
</g>
<g transform="translate(305.70 394.00) scale(1 1.1)">
<text x="0.00" y="0.00" font-size="6.0" fill="#333" text-anchor="middle" stroke="#333" stroke-width="0.12" >Gene</text>
</g>
<g transform="translate(352.90 393.90) scale(1 1.1)">
<text x="0.00" y="0.00" font-size="6.0" fill="#333" text-anchor="middle" stroke="#333" stroke-width="0.12" >OS*</text>
</g>
<g transform="translate(395.00 393.70) scale(1 1.1)">
<text x="0.00" y="0.00" font-size="6.0" fill="#333" text-anchor="middle" stroke="#333" stroke-width="0.12" >Raw <tspan font-style="italic">P</tspan>-value</text>
</g>
<g transform="translate(454.90 390.20) scale(1 1.1)">
<text x="0.00" y="0.00" font-size="6.0" fill="#333" text-anchor="middle" stroke="#333" stroke-width="0.12" >BexT4+Cile</text>
</g>
<g transform="translate(455.00 397.90) scale(1 1.1)">
<text x="0.00" y="0.00" font-size="6.0" fill="#333" text-anchor="middle" stroke="#333" stroke-width="0.12" >treated tumors*</text>
</g>
<g transform="translate(306.00 412.40) scale(1 1.1)">
<text x="0.00" y="0.00" font-size="6.3" fill="#f4fbff" text-anchor="middle" stroke="#f4fbff" stroke-width="0.05" >RDX</text>
</g>
<g transform="translate(352.60 412.40) scale(1 1.1)">
<text x="0.00" y="0.00" font-size="6.3" fill="#f4fbff" text-anchor="middle" stroke="#f4fbff" stroke-width="0.05" >W</text>
</g>
<g transform="translate(394.80 412.40) scale(1 1.1)">
<text x="0.00" y="0.00" font-size="6.3" fill="#f4fbff" text-anchor="middle" stroke="#f4fbff" stroke-width="0.05" >.037</text>
</g>
<g transform="translate(454.30 412.40) scale(1 1.1)">
<text x="0.00" y="0.00" font-size="6.3" fill="#f4fbff" text-anchor="middle" stroke="#f4fbff" stroke-width="0.05" >−</text>
</g>
<g transform="translate(306.00 427.80) scale(1 1.1)">
<text x="0.00" y="0.00" font-size="6.3" fill="#f4fbff" text-anchor="middle" stroke="#f4fbff" stroke-width="0.05" >MSN</text>
</g>
<g transform="translate(352.60 427.80) scale(1 1.1)">
<text x="0.00" y="0.00" font-size="6.3" fill="#f4fbff" text-anchor="middle" stroke="#f4fbff" stroke-width="0.05" >W</text>
</g>
<g transform="translate(394.80 427.80) scale(1 1.1)">
<text x="0.00" y="0.00" font-size="6.3" fill="#f4fbff" text-anchor="middle" stroke="#f4fbff" stroke-width="0.05" >.011</text>
</g>
<g transform="translate(454.30 427.80) scale(1 1.1)">
<text x="0.00" y="0.00" font-size="6.3" fill="#f4fbff" text-anchor="middle" stroke="#f4fbff" stroke-width="0.05" >−</text>
</g>
<g transform="translate(306.00 443.20) scale(1 1.1)">
<text x="0.00" y="0.00" font-size="6.3" fill="#f4fbff" text-anchor="middle" stroke="#f4fbff" stroke-width="0.05" >ATXN2L</text>
</g>
<g transform="translate(352.60 443.20) scale(1 1.1)">
<text x="0.00" y="0.00" font-size="6.3" fill="#f4fbff" text-anchor="middle" stroke="#f4fbff" stroke-width="0.05" >W</text>
</g>
<g transform="translate(394.80 443.20) scale(1 1.1)">
<text x="0.00" y="0.00" font-size="6.3" fill="#f4fbff" text-anchor="middle" stroke="#f4fbff" stroke-width="0.05" >3.40e-03</text>
</g>
<g transform="translate(454.30 443.20) scale(1 1.1)">
<text x="0.00" y="0.00" font-size="6.3" fill="#f4fbff" text-anchor="middle" stroke="#f4fbff" stroke-width="0.05" >−</text>
</g>
<g transform="translate(306.00 458.65) scale(1 1.1)">
<text x="0.00" y="0.00" font-size="6.3" fill="#f4fbff" text-anchor="middle" stroke="#f4fbff" stroke-width="0.05" >PSIP1</text>
</g>
<g transform="translate(352.60 458.65) scale(1 1.1)">
<text x="0.00" y="0.00" font-size="6.3" fill="#f4fbff" text-anchor="middle" stroke="#f4fbff" stroke-width="0.05" >W</text>
</g>
<g transform="translate(394.80 458.65) scale(1 1.1)">
<text x="0.00" y="0.00" font-size="6.3" fill="#f4fbff" text-anchor="middle" stroke="#f4fbff" stroke-width="0.05" >6.77e-03</text>
</g>
<g transform="translate(454.30 458.65) scale(1 1.1)">
<text x="0.00" y="0.00" font-size="6.3" fill="#f4fbff" text-anchor="middle" stroke="#f4fbff" stroke-width="0.05" >−</text>
</g>
<g transform="translate(306.00 473.95) scale(1 1.1)">
<text x="0.00" y="0.00" font-size="6.3" fill="#f4fbff" text-anchor="middle" stroke="#f4fbff" stroke-width="0.05" >TALDO1</text>
</g>
<g transform="translate(352.60 473.95) scale(1 1.1)">
<text x="0.00" y="0.00" font-size="6.3" fill="#f4fbff" text-anchor="middle" stroke="#f4fbff" stroke-width="0.05" >W</text>
</g>
<g transform="translate(394.80 473.95) scale(1 1.1)">
<text x="0.00" y="0.00" font-size="6.3" fill="#f4fbff" text-anchor="middle" stroke="#f4fbff" stroke-width="0.05" >.017</text>
</g>
<g transform="translate(454.30 473.95) scale(1 1.1)">
<text x="0.00" y="0.00" font-size="6.3" fill="#f4fbff" text-anchor="middle" stroke="#f4fbff" stroke-width="0.05" >−</text>
</g>
<g transform="translate(306.00 489.40) scale(1 1.1)">
<text x="0.00" y="0.00" font-size="6.3" fill="#f4fbff" text-anchor="middle" stroke="#f4fbff" stroke-width="0.05" >TRIM28</text>
</g>
<g transform="translate(352.60 489.40) scale(1 1.1)">
<text x="0.00" y="0.00" font-size="6.3" fill="#f4fbff" text-anchor="middle" stroke="#f4fbff" stroke-width="0.05" >W</text>
</g>
<g transform="translate(394.80 489.40) scale(1 1.1)">
<text x="0.00" y="0.00" font-size="6.3" fill="#f4fbff" text-anchor="middle" stroke="#f4fbff" stroke-width="0.05" >6.68e-03</text>
</g>
<g transform="translate(454.30 489.40) scale(1 1.1)">
<text x="0.00" y="0.00" font-size="6.3" fill="#f4fbff" text-anchor="middle" stroke="#f4fbff" stroke-width="0.05" >−</text>
</g>
<g transform="translate(278.00 502.80) scale(1 1.1)">
<text x="0.00" y="0.00" font-size="6.2" fill="#222" text-anchor="start" stroke="#222" stroke-width="0.12" >* B = better, W = worst, (−) = downregulated</text>
</g>
</svg>
<svg class="ov" width="520" height="534" viewBox="0 0 520 534">
<rect x="0.00" y="0.00" width="1.05" height="534.00" fill="#5a5a5a" />
<rect x="0.00" y="0.00" width="520.00" height="1.10" fill="#5c5c5c" />
<rect x="518.90" y="0.00" width="1.10" height="534.00" fill="#444444" />
<rect x="0.00" y="532.50" width="520.00" height="1.50" fill="#383838" />
</svg></body></html>
